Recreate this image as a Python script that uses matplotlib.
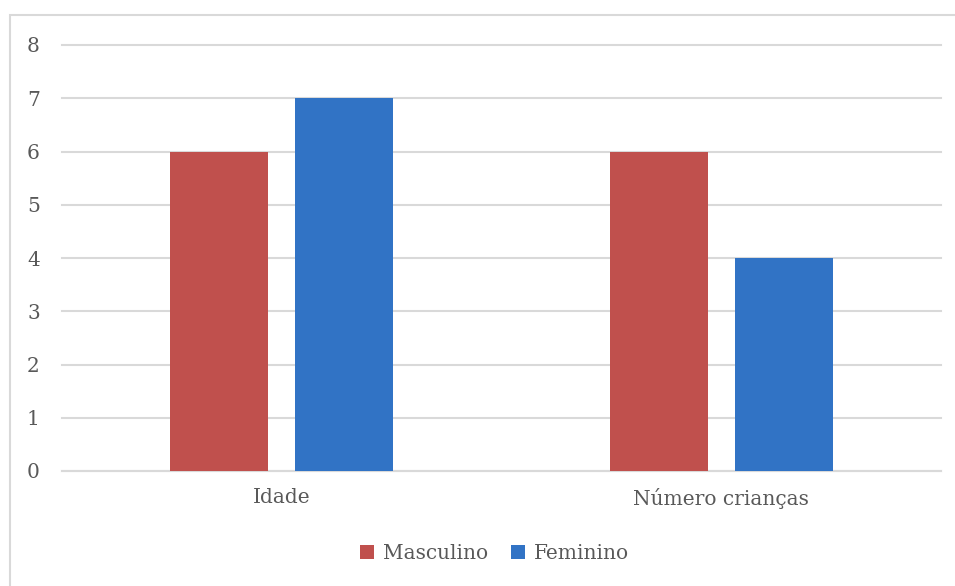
import numpy as np
import matplotlib.pyplot as plt
from matplotlib.patches import Rectangle

categorias = ["Idade", "Número crianças"]
masculino = [6, 6]
feminino = [7, 4]
yticks = [0, 1, 2, 3, 4, 5, 6, 7, 8]

cor_m = "#C0504D"
cor_f = "#3173C5"
cor_txt = "#595959"
cor_grid = "#D9D9D9"

plt.rcParams['font.family'] = ['DejaVu Serif']

fig = plt.figure(figsize=(9.55, 5.86), dpi=100)
# moldura do grafico (cortada a direita e em baixo)
fig.patches.append(Rectangle((10/955, -0.1), 1.2, 1.1 - 15/586,
                             transform=fig.transFigure, fill=False,
                             edgecolor=cor_grid, linewidth=1.5))

ax = fig.add_axes([62/955, 1 - 471/586, (941-62)/955, (471-45)/586])

x = np.arange(len(categorias))
larg = 0.223
ax.bar(x - 0.142, masculino, larg, color=cor_m, label="Masculino", zorder=3)
ax.bar(x + 0.142, feminino, larg, color=cor_f, label="Feminino", zorder=3)

ax.set_xlim(-0.5, 1.5)
ax.set_ylim(0, 8)
ax.set_yticks(yticks)
ax.set_xticks(x)
ax.set_xticklabels(categorias)
ax.grid(axis="y", color=cor_grid, linewidth=1.5, zorder=0)
for gl in ax.get_ygridlines():
    gl.set_clip_on(False)
for s in ["top", "right", "left"]:
    ax.spines[s].set_visible(False)
ax.spines["bottom"].set_color(cor_grid)
ax.spines["bottom"].set_linewidth(1.5)
ax.tick_params(axis="y", length=0, pad=16, labelsize=14.5, labelcolor=cor_txt)
ax.tick_params(axis="x", length=0, pad=12, labelsize=14.5, labelcolor=cor_txt)

ax.legend(loc="center", bbox_to_anchor=(0.492, -0.193), ncol=2, frameon=False,
          fontsize=14.5, labelcolor=cor_txt, handlelength=0.7, handleheight=0.7,
          handletextpad=0.45, columnspacing=1.1)

plt.savefig("out.png")
